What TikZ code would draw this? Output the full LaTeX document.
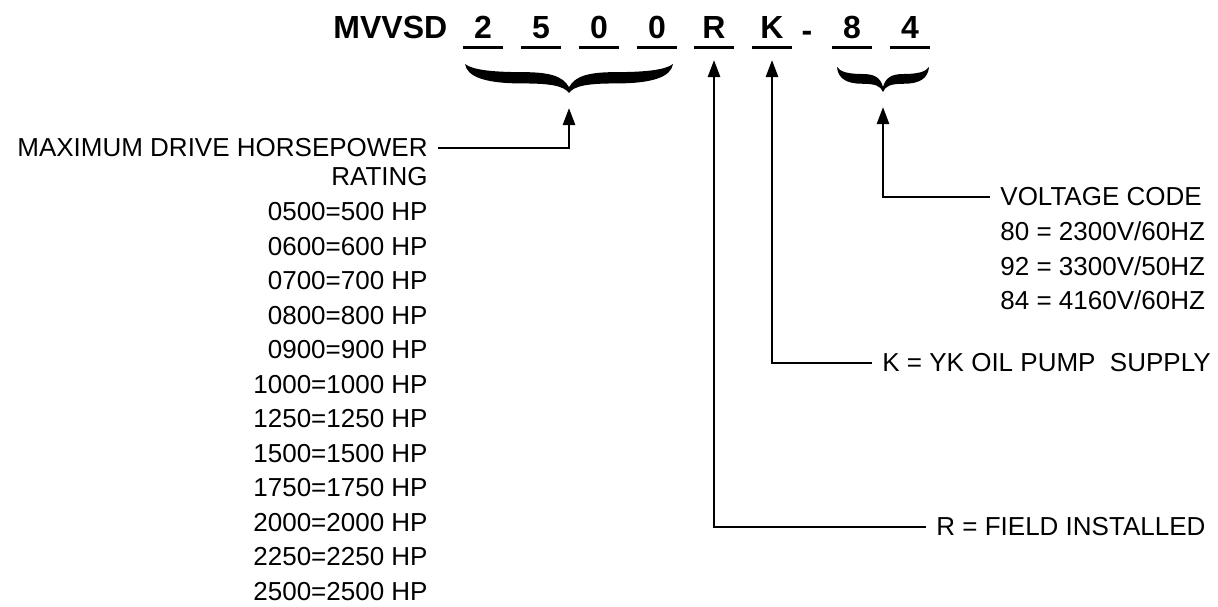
\documentclass[tikz,border=0pt]{standalone}
\usepackage{fontspec}
\setmainfont{Liberation Sans}
\usetikzlibrary{arrows.meta}

\begin{document}
\begin{tikzpicture}[
    x=0.5pt, y=-0.5pt,
    note/.style={inner xsep=5pt, inner ysep=0pt, font=\fontsize{13}{15}\selectfont},
    codechar/.style={inner sep=0pt, font=\fontsize{16}{19}\selectfont\bfseries},
    uline/.style={line width=1.5pt},
    arrow/.style={line width=1.3pt, -{Triangle[length=8.5pt,width=6pt]}},
    curly/.pic={
      \fill (-1,0) .. controls (-0.98,0.45) and (-0.8,0.67) .. (-0.45,0.67)
        .. controls (-0.18,0.67) and (-0.05,0.75) .. (0,1)
        .. controls (0.05,0.75) and (0.18,0.67) .. (0.45,0.67)
        .. controls (0.8,0.67) and (0.98,0.45) .. (1,0)
        .. controls (0.93,0.2) and (0.74,0.28) .. (0.45,0.28)
        .. controls (0.2,0.28) and (0.06,0.4) .. (0,0.8)
        .. controls (-0.06,0.4) and (-0.2,0.28) .. (-0.45,0.28)
        .. controls (-0.74,0.28) and (-0.93,0.2) .. (-1,0) -- cycle;
    }
]
  \useasboundingbox (0,0) rectangle (1218,606);

  % Model code
  \node[codechar, anchor=base west] (model) at (333,38) {MVVSD};
  \foreach \x/\c/\n in {483/2/n1, 541/5/n2, 599/0/n3, 657/0/n4, 714/R/nR, 772/K/nK, 852/8/n8, 910/4/n9} {
    \node[codechar, anchor=base] (\n) at (\x,38) {\c};
    \draw[uline] (\x-20,47) -- (\x+20,47);
  }
  \node[codechar, anchor=base] (dash) at (807,41) {-};

  % Braces
  \begin{scope}[shift={(569,64)}, xscale=104, yscale=29]
    \pic[transform shape] {curly};
  \end{scope}
  \begin{scope}[shift={(883,67)}, xscale=46, yscale=25]
    \pic[transform shape] {curly};
  \end{scope}

  % Arrow tips
  \coordinate (hpTip) at (569,108);
  \coordinate (vTip) at (883,107);
  \coordinate (kTip) at (772,60);
  \coordinate (rTip) at (714,60);

  % Horsepower
  \node[note, anchor=east] (maxhp) at (438,148) {MAXIMUM DRIVE HORSEPOWER};
  \node[note, anchor=base east] (rating) at (438,185.3) {RATING};
  \foreach \a/\b [count=\i from 0] in {0500/500, 0600/600, 0700/700, 0800/800, 0900/900, 1000/1000, 1250/1250, 1500/1500, 1750/1750, 2000/2000, 2250/2250, 2500/2500}
    \node[note, anchor=base east] (hp\i) at (438,220.8+34.5*\i) {\a=\b\ HP};

  % Voltage
  \node[note, anchor=west] (vcode) at (990,197) {VOLTAGE CODE};
  \node[note, anchor=base west] (v80) at (990,240.8) {80 = 2300V/60HZ};
  \node[note, anchor=base west] (v92) at (990,275.3) {92 = 3300V/50HZ};
  \node[note, anchor=base west] (v84) at (990,309.8) {84 = 4160V/60HZ};

  % Options
  \node[note, anchor=west] (klbl) at (872,363) {K = YK OIL PUMP\ \ SUPPLY};
  \node[note, anchor=west] (rlbl) at (926,527) {R = FIELD INSTALLED};

  % Arrows
  \draw[arrow] (maxhp.east) -| (hpTip);
  \draw[arrow] (vcode.west) -| (vTip);
  \draw[arrow] (klbl.west) -| (kTip);
  \draw[arrow] (rlbl.west) -| (rTip);
\end{tikzpicture}
\end{document}
